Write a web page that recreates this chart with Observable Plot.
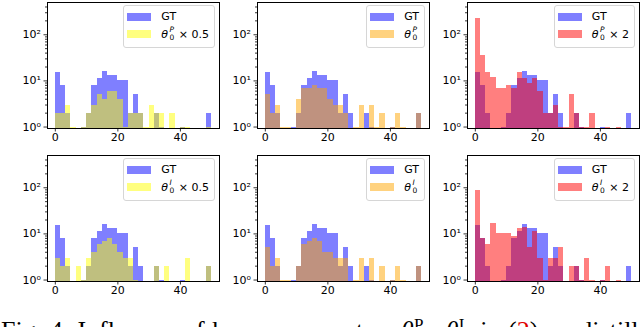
<!DOCTYPE html>
<html><head><meta charset="utf-8">
<script src="https://cdn.jsdelivr.net/npm/d3@7"></script>
<script src="https://cdn.jsdelivr.net/npm/@observablehq/plot@0.6"></script>
<style>
html,body{margin:0;padding:0;background:#fff;}
body{width:640px;height:327px;overflow:hidden;position:relative;font-family:"DejaVu Sans",sans-serif;}
.panel{position:absolute;width:220px;height:150px;}
.panel svg{position:absolute;left:0;top:0;overflow:visible;}
.legend{position:absolute;right:5px;top:5px;border:1px solid #d6d6d6;border-radius:3px;background:rgba(255,255,255,0.8);font-size:11px;padding:3px 5px 3px 3px;color:#000;}
.row{display:flex;align-items:center;white-space:nowrap;}
.r1{height:15px;}
.r2{height:20px;}
.sw{width:24px;height:8px;margin-right:10px;flex:none;}
.th{font-style:italic;}
.ss{display:inline-flex;flex-direction:column;font-size:7.5px;line-height:8px;vertical-align:middle;margin-left:1.5px;margin-right:1px;}
.ss .sp{font-style:italic;}
.caption{position:absolute;left:1px;top:312px;font-family:"Liberation Serif","Times New Roman",serif;font-size:26px;line-height:26px;white-space:nowrap;color:#000;word-spacing:1px;}
.caption .red{color:#e00000;}
.caption sup{font-size:17px;vertical-align:9px;}
.caption sub{font-size:17px;vertical-align:-5px;}
</style></head><body>
<script>
// ---- data ----
const binCount = 30;
const binRange = [0, 50];
const xTicks = [0, 20, 40];
const yMajorTicks = [1, 10, 100];
const yTickLabels = ["10\u2070", "10\u00B9", "10\u00B2"];
const yMinorTicks = [2,3,4,5,6,7,8,9,20,30,40,50,60,70,80,90,200,300,400];

const gtCounts = [15, 8, 2, 0, 0, 1, 2, 8, 11, 16, 13, 13, 10, 10, 2, 5, 2, 0, 0, 2, 1, 0, 0, 0, 1, 0, 0, 0, 0, 2];
const predP05Counts = [2, 2, 3, 1, 0, 1, 2, 3, 5, 4, 6, 6, 4, 1, 2, 2, 2, 1, 3, 2, 2, 0, 2, 0, 1, 1, 0, 0, 0, 1];
const predP1Counts  = [5, 2, 3, 1, 1, 0, 4, 7, 7, 8, 7, 7, 4, 3, 3, 2, 0, 1, 3, 0, 3, 1, 2, 0, 1, 2, 1, 0, 0, 2];
const predP2Counts  = [224, 35, 15, 12, 7, 7, 8, 7, 15, 11, 9, 11, 6, 2, 2, 3, 1, 1, 5, 2, 1, 1, 2, 0, 0, 1, 0, 1, 0, 0];
const predI05Counts = [3, 2, 3, 0, 2, 1, 3, 4, 6, 7, 8, 6, 4, 3, 3, 1, 0, 0, 0, 2, 0, 2, 0, 0, 0, 3, 0, 0, 0, 2];
const predI1Counts  = [5, 2, 3, 1, 1, 0, 2, 6, 7, 8, 7, 4, 4, 3, 3, 3, 0, 1, 3, 0, 3, 0, 2, 0, 1, 2, 1, 0, 0, 2];
const predI2Counts  = [88, 8, 6, 17, 10, 10, 10, 9, 13, 14, 5, 11, 3, 1, 3, 3, 5, 0, 2, 2, 1, 3, 1, 0, 1, 2, 0, 1, 0, 0];

const panelCounts = [predP05Counts, predP1Counts, predP2Counts, predI05Counts, predI1Counts, predI2Counts];
const panelColors = ["yellow", "orange", "red", "yellow", "orange", "red"];
const panelSup = ["P", "P", "P", "I", "I", "I"];
const panelSuffix = ["\u00D7 0.5", "", "\u00D7 2", "\u00D7 0.5", "", "\u00D7 2"];
const gtLabel = "GT";
const gtColor = "blue";

// ---- drawing ----
const yDomain = [0.93, 500];
const binWidth = (binRange[1] - binRange[0]) / binCount;
const xDomain = [binRange[0] - 0.05 * (binRange[1] - binRange[0]), binRange[1] + 0.05 * (binRange[1] - binRange[0])];

function rows(counts) {
  return counts.map((c, i) => ({x1: binRange[0] + i * binWidth, x2: binRange[0] + (i + 1) * binWidth, c}))
               .filter(d => d.c > 0);
}

const rgba = {blue: "rgba(0,0,255,0.5)", yellow: "rgba(255,255,0,0.5)", orange: "rgba(255,165,0,0.5)", red: "rgba(255,0,0,0.5)"};

panelCounts.forEach((counts, k) => {
  const col = k % 3, row = Math.floor(k / 3);
  const div = document.createElement("div");
  div.className = "panel";
  div.style.left = (col * 210) + "px";
  div.style.top = (row * 153) + "px";
  document.body.appendChild(div);

  const rectOpts = {x1: "x1", x2: "x2", y1: yDomain[0], y2: "c", fillOpacity: 0.5, inset: 0, shapeRendering: "crispEdges"};
  const svg = Plot.plot({
    width: 220, height: 150,
    marginLeft: 47, marginRight: 1, marginTop: 2, marginBottom: 22,
    style: {fontFamily: "DejaVu Sans", fontSize: "11px", color: "#000", background: "transparent", overflow: "visible"},
    x: {domain: xDomain, label: null},
    y: {type: "log", domain: yDomain, label: null},
    marks: [
      Plot.rectY(rows(gtCounts), {...rectOpts, fill: gtColor}),
      Plot.rectY(rows(counts), {...rectOpts, fill: panelColors[k]}),
      Plot.axisY(yMinorTicks, {tickSize: 2, text: null, strokeWidth: 0.8}),
      Plot.axisY(yMajorTicks, {tickSize: 3.5, tickPadding: 3, tickFormat: d => yTickLabels[yMajorTicks.indexOf(d)], strokeWidth: 0.8, fontSize: 11}),
      Plot.axisX(xTicks, {tickSize: 3.5, tickPadding: 1.5, strokeWidth: 0.8, fontSize: 11}),
      Plot.frame({stroke: "#000", strokeWidth: 1})
    ]
  });
  div.appendChild(svg);

  const lg = document.createElement("div");
  lg.className = "legend";
  lg.innerHTML =
    `<div class="row r1"><span class="sw" style="background:${rgba[gtColor]}"></span><span>${gtLabel}</span></div>` +
    `<div class="row r2"><span class="sw" style="background:${rgba[panelColors[k]]}"></span>` +
    `<span class="th">\u03B8</span><span class="ss"><span class="sp">${panelSup[k]}</span><span>0</span></span>` +
    (panelSuffix[k] ? `<span>&nbsp;${panelSuffix[k]}</span>` : "") + `</div>`;
  div.appendChild(lg);
});

const cap = document.createElement("div");
cap.className = "caption";
cap.innerHTML = 'Fig. 4: Influence of hyper-parameters <i>\u03B8</i><sup>P</sup><sub>0</sub>, <i>\u03B8</i><sup>I</sup><sub>0</sub> in (<span class="red">2</span>) on distillation performance.';
document.body.appendChild(cap);
</script>
</body></html>
